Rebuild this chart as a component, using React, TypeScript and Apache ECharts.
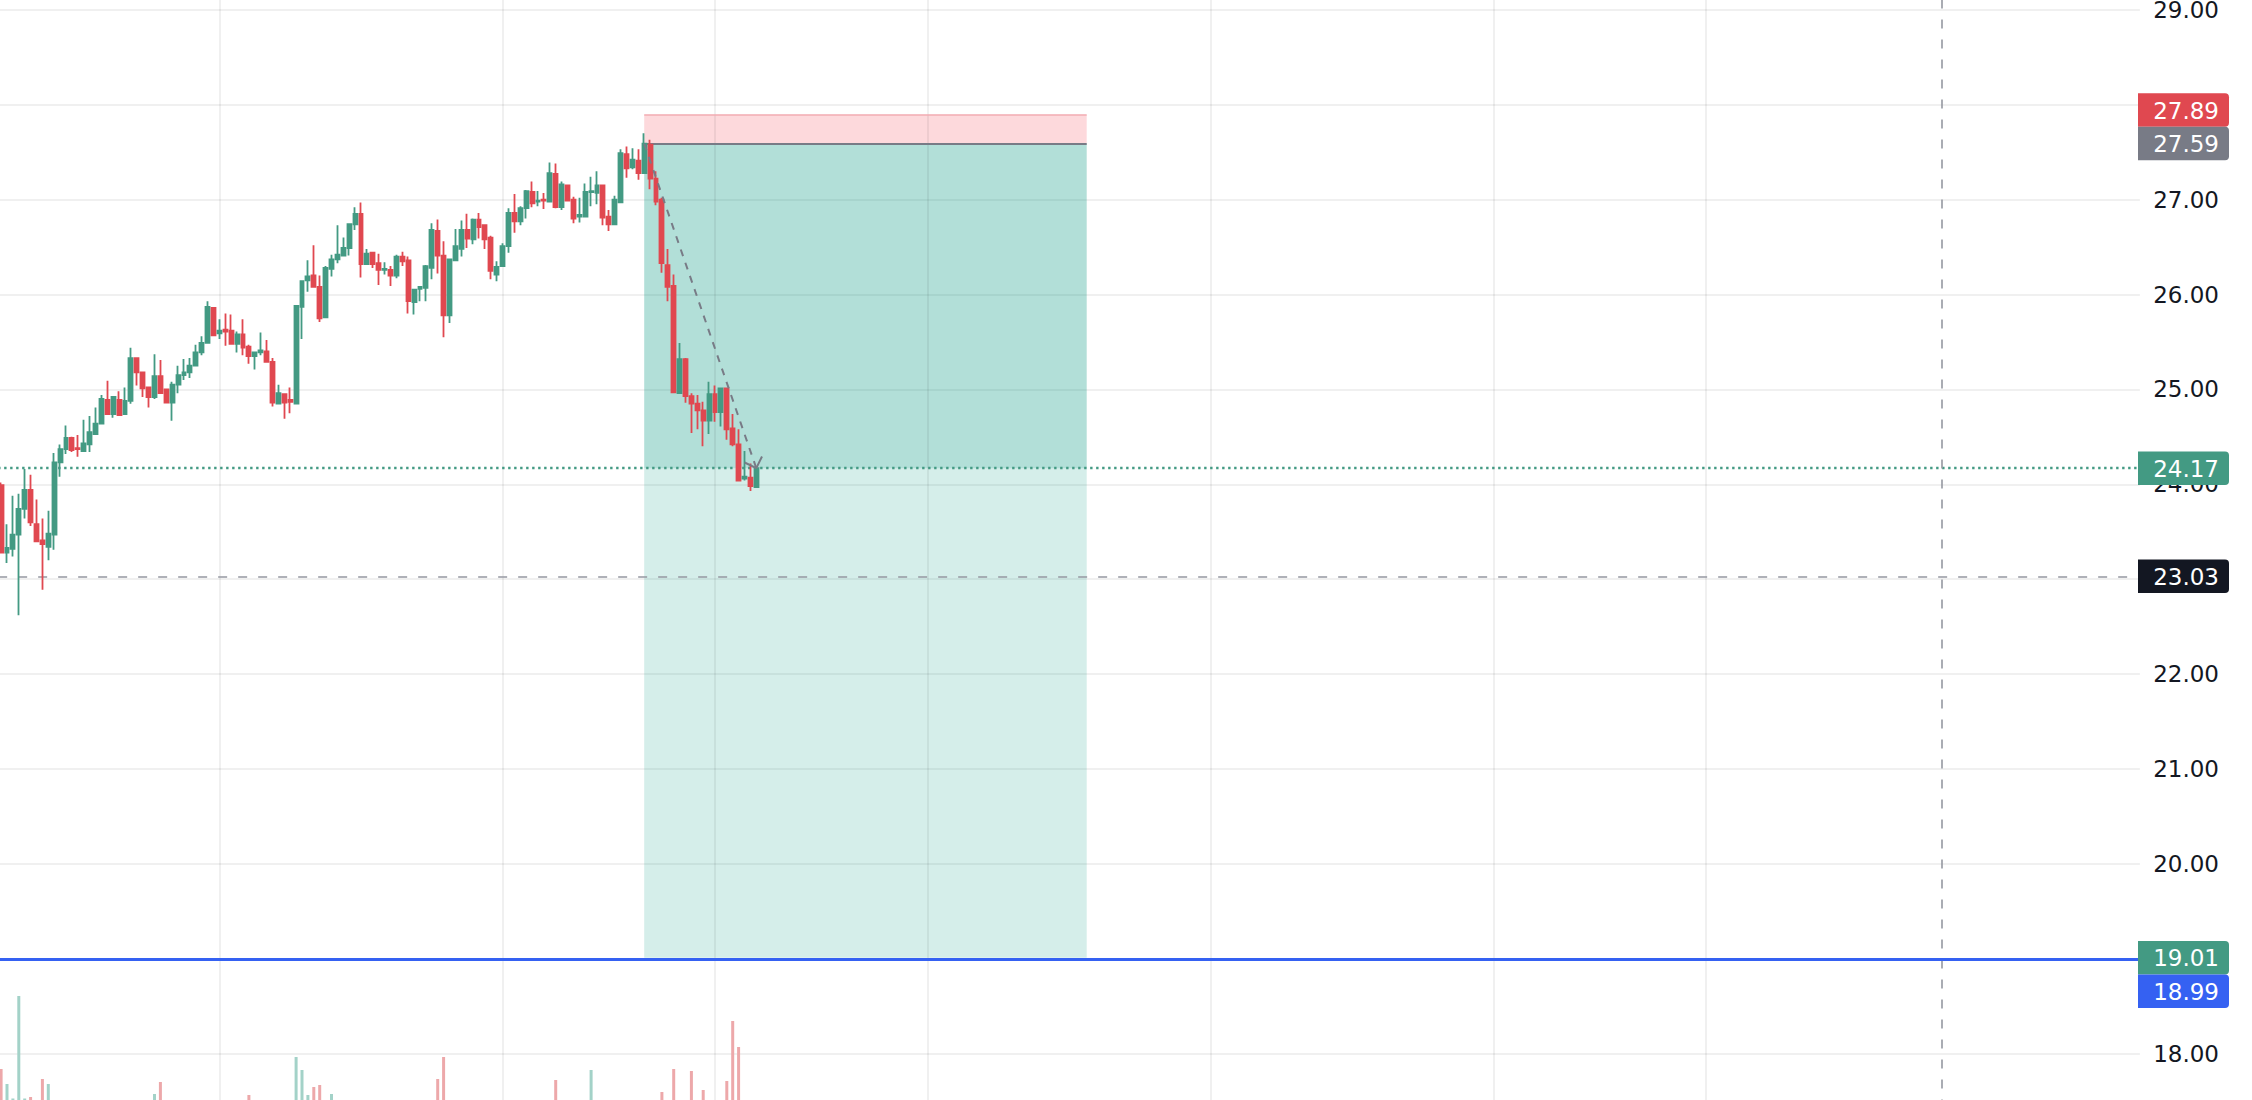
import React, { useEffect, useRef } from "react";
import * as echarts from "echarts";

// ---------- data ----------
const opens = [
  23.99, 23.28, 23.32, 23.47, 23.74, 23.94, 23.58, 23.41, 23.34, 23.47,
  24.23, 24.37, 24.49, 24.38, 24.35, 24.42, 24.53, 24.64, 24.89, 24.74,
  24.89, 24.74, 24.88, 25.33, 25.18, 25.02, 24.92, 25.14, 25.0, 24.86,
  25.05, 25.15, 25.18, 25.25, 25.39, 25.49, 25.86, 25.59, 25.63, 25.62,
  25.48, 25.58, 25.45, 25.35, 25.39, 25.4, 25.29, 24.85, 24.95, 24.89,
  24.85, 25.87, 26.15, 26.2, 26.08, 25.76, 26.27, 26.37, 26.41, 26.49,
  26.74, 26.85, 26.32, 26.44, 26.33, 26.26, 26.26, 26.2, 26.4, 26.36,
  25.92, 26.06, 26.07, 26.28, 26.67, 26.41, 25.78, 26.36, 26.48, 26.68,
  26.58, 26.79, 26.73, 26.6, 26.21, 26.3, 26.51, 26.86, 26.77, 26.91,
  27.08, 26.98, 27.0, 26.98, 27.27, 26.92, 27.15, 27.0, 26.82, 26.82,
  27.08, 27.07, 27.15, 26.82, 26.74, 26.97, 27.48, 27.34, 27.41, 27.28,
  27.58, 27.22, 27.0, 26.31, 26.09, 24.96, 25.32, 24.93, 24.85, 24.78,
  24.67, 24.95, 24.76, 25.01, 24.59, 24.42, 24.06, 24.07, 23.97,
];
const highs = [
  24.02, 23.58, 23.88, 23.9, 24.16, 24.1, 23.84, 23.64, 23.72, 24.33,
  24.42, 24.62, 24.5, 24.52, 24.68, 24.72, 24.81, 24.94, 25.09, 24.92,
  24.98, 25.02, 25.44, 25.33, 25.18, 25.02, 25.37, 25.31, 25.0, 25.08,
  25.25, 25.32, 25.33, 25.47, 25.56, 25.93, 25.86, 25.74, 25.8, 25.79,
  25.61, 25.74, 25.47, 25.39, 25.6, 25.52, 25.33, 25.05, 24.95, 25.02,
  25.88, 26.15, 26.36, 26.52, 26.2, 26.3, 26.42, 26.73, 26.6, 26.74,
  26.92, 26.97, 26.48, 26.44, 26.43, 26.34, 26.3, 26.42, 26.45, 26.4,
  26.06, 26.09, 26.31, 26.75, 26.79, 26.56, 26.37, 26.69, 26.78, 26.85,
  26.8, 26.86, 26.73, 26.62, 26.35, 26.54, 26.91, 27.06, 26.93, 27.1,
  27.19, 27.09, 27.07, 27.39, 27.38, 27.19, 27.15, 27.03, 27.02, 27.17,
  27.24, 27.3, 27.15, 26.89, 27.04, 27.53, 27.56, 27.54, 27.53, 27.7,
  27.63, 27.3, 27.02, 26.48, 26.21, 25.49, 25.33, 24.96, 24.94, 24.87,
  25.08, 25.04, 25.01, 25.02, 24.74, 24.58, 24.35, 24.22, 24.17,
];
const lows = [
  23.27, 23.17, 23.24, 22.62, 23.64, 23.56, 23.39, 22.89, 23.2, 23.31,
  24.08, 24.32, 24.34, 24.29, 24.34, 24.34, 24.53, 24.64, 24.74, 24.7,
  24.73, 24.74, 24.85, 25.04, 24.92, 24.81, 24.9, 24.96, 24.86, 24.67,
  24.96, 25.1, 25.12, 25.25, 25.36, 25.49, 25.57, 25.53, 25.46, 25.47,
  25.39, 25.36, 25.27, 25.21, 25.36, 25.28, 24.82, 24.85, 24.69, 24.75,
  24.85, 25.53, 26.03, 26.08, 25.71, 25.76, 26.19, 26.33, 26.41, 26.41,
  26.68, 26.18, 26.32, 26.28, 26.1, 26.21, 26.09, 26.17, 26.3, 25.8,
  25.79, 25.93, 25.93, 26.16, 26.22, 25.55, 25.7, 26.36, 26.4, 26.49,
  26.53, 26.59, 26.48, 26.16, 26.14, 26.3, 26.44, 26.65, 26.73, 26.8,
  26.92, 26.93, 26.9, 26.98, 26.91, 26.89, 26.99, 26.75, 26.76, 26.82,
  26.93, 26.95, 26.73, 26.67, 26.74, 26.97, 27.23, 27.32, 27.21, 27.27,
  27.11, 26.94, 26.23, 25.93, 24.96, 24.96, 24.86, 24.54, 24.58, 24.4,
  24.53, 24.66, 24.61, 24.47, 24.4, 24.04, 24.04, 23.93, 23.97,
];
const closes = [
  23.28, 23.33, 23.47, 23.74, 23.94, 23.6, 23.4, 23.37, 23.48, 24.23,
  24.37, 24.49, 24.36, 24.37, 24.43, 24.55, 24.64, 24.9, 24.74, 24.92,
  24.73, 24.88, 25.33, 25.18, 25.01, 24.92, 25.14, 24.96, 24.86, 25.05,
  25.15, 25.18, 25.25, 25.39, 25.49, 25.87, 25.57, 25.62, 25.61, 25.48,
  25.58, 25.44, 25.35, 25.39, 25.41, 25.29, 24.86, 24.96, 24.86, 24.87,
  25.88, 26.14, 26.19, 26.08, 25.75, 26.28, 26.37, 26.42, 26.49, 26.74,
  26.85, 26.32, 26.43, 26.32, 26.26, 26.27, 26.2, 26.4, 26.35, 25.93,
  26.05, 26.08, 26.3, 26.68, 26.41, 25.78, 26.37, 26.51, 26.68, 26.59,
  26.79, 26.71, 26.58, 26.25, 26.29, 26.51, 26.86, 26.77, 26.91, 27.09,
  26.96, 26.99, 26.99, 27.28, 26.92, 27.16, 26.99, 26.8, 26.84, 27.08,
  27.09, 27.15, 26.81, 26.74, 27.0, 27.49, 27.33, 27.42, 27.28, 27.59,
  27.22, 26.98, 26.33, 26.08, 24.97, 25.32, 24.93, 24.85, 24.78, 24.67,
  24.95, 24.76, 25.01, 24.58, 24.42, 24.04, 24.08, 23.98, 24.17,
];
// [bar index, visible volume height] – only the bars that rise into view
const volumeBars = [
  [0, 31], [1, 16], [2, 1.5], [3, 104], [4, 1.5], [5, 3], [7, 21], [8, 16],
  [26, 6], [27, 18], [42, 5], [50, 43], [51, 30], [52, 5], [53, 13], [54, 15],
  [56, 6], [74, 21], [75, 43], [94, 20], [100, 30], [112, 8], [114, 31],
  [117, 29], [119, 10], [123, 19], [124, 79], [125, 53],
];
// tick labels shown on the price scale (19.00 and 28.00 are hidden behind the tags)
const priceTickLabels = [18, 20, 21, 22, 23, 24, 25, 26, 27, 29];
const timeGridBars = [37, 85, 121, 157, 205, 253, 289];
// short position tool
const positionStartBar = 109;
const positionEndBar = 184;
const entryPrice = 27.59;
const stopPrice = 27.89;
const targetPrice = 19.01;
const currentPrice = 24.17;
const lastBar = 128;
// crosshair and horizontal line
const crosshairBar = 329;
const crosshairPrice = 23.03;
const horizontalLinePrice = 18.99;
const priceTags = [
  { value: 27.89, kind: "stop" },
  { value: 27.59, kind: "entry" },
  { value: 24.17, kind: "last" },
  { value: 23.03, kind: "cross" },
  { value: 19.01, kind: "target" },
  { value: 18.99, kind: "hline" },
];

// ---------- layout / style ----------
const W = 2252;
const H = 1100;
// the chart canvas is larger than the page so that the price scale can run past its edges
const OFF_X = 20;
const OFF_Y = 200;
const CW = W + OFF_X + 20;
const CH = H + OFF_Y + 200;

const BAR_STEP = 5.9;
const FIRST_BAR_X = 1.1;
const SLOTS = 363;
const GRID_LEFT = OFF_X + FIRST_BAR_X - BAR_STEP / 2;
const GRID_WIDTH = SLOTS * BAR_STEP;
const PX_PER_UNIT = 94.9;
const Y_OF_28 = 104.7;
const Y_MIN = 17;
const Y_MAX = 30;
const GRID_TOP = OFF_Y + Y_OF_28 - (Y_MAX - 28) * PX_PER_UNIT;
const GRID_HEIGHT = (Y_MAX - Y_MIN) * PX_PER_UNIT;
const VOL_HEIGHT = 220;

const UP = "#439a83";
const DOWN = "#e04850";
const GRID_COLOR = "#f0f0f0";
const GRID_OVER = "rgba(0,0,0,0.06)";
const GRAY = "#787b86";
const CROSS = "#9598a1";
const BLUE = "#3561f2";
const TEXT = "#131722";
const FONT = "'DejaVu Sans', Inter, sans-serif";
const FONT_SIZE = 23;

const TAG_COLORS: Record<string, string> = {
  stop: DOWN,
  entry: GRAY,
  last: UP,
  cross: TEXT,
  target: UP,
  hline: BLUE,
};

const TAG_X = OFF_X + 2138;
const TAG_W = 91;
const TAG_H = 33.5;
const TAG_TEXT_RIGHT = OFF_X + 2219;

export default function App() {
  const ref = useRef<HTMLDivElement>(null);

  useEffect(() => {
    if (!ref.current) return;
    const chart = echarts.init(ref.current, undefined, { renderer: "svg", width: CW, height: CH });

    const categories = Array.from({ length: SLOTS }, (_, i) => String(i));
    const candleData = opens.map((o, i) => [o, closes[i], lows[i], highs[i]]);
    const volumeData: any[] = Array.from({ length: opens.length }, () => "-");
    volumeBars.forEach(([i, v]) => {
      volumeData[i] = {
        value: v,
        itemStyle: { color: closes[i] >= opens[i] ? "#a3d2c8" : "#eda8aa" },
      };
    });

    // arrow head at the end of the dashed connector
    const dxPx = (lastBar - positionStartBar) * BAR_STEP;
    const dyPx = (entryPrice - currentPrice) * PX_PER_UNIT;
    const len = Math.hypot(dxPx, dyPx);
    const ux = -dxPx / len;
    const uy = -dyPx / len;
    const armLen = 13;
    const arm = (a: number) => {
      const c = Math.cos(a);
      const s = Math.sin(a);
      const vx = (ux * c - uy * s) * armLen;
      const vy = (ux * s + uy * c) * armLen;
      return [lastBar + vx / BAR_STEP, currentPrice - vy / PX_PER_UNIT];
    };
    const arrowHead = [arm(-Math.PI / 4), [lastBar, currentPrice], arm(Math.PI / 4)];

    const option: any = {
      animation: false,
      backgroundColor: "#ffffff",
      textStyle: { fontFamily: FONT },
      grid: [
        { left: GRID_LEFT, top: GRID_TOP, width: GRID_WIDTH, height: GRID_HEIGHT },
        { left: GRID_LEFT, top: OFF_Y + H - VOL_HEIGHT, width: GRID_WIDTH, height: VOL_HEIGHT },
      ],
      xAxis: [
        { type: "category", gridIndex: 0, data: categories, show: false, boundaryGap: true },
        { type: "value", gridIndex: 0, min: -0.5, max: SLOTS - 0.5, show: false },
        { type: "category", gridIndex: 1, data: categories, show: false, boundaryGap: true },
      ],
      yAxis: [
        {
          type: "value",
          gridIndex: 0,
          position: "right",
          min: Y_MIN,
          max: Y_MAX,
          interval: 1,
          axisLine: { show: false },
          axisTick: { show: false },
          splitLine: { show: true, lineStyle: { color: GRID_COLOR, width: 2 } },
          axisLabel: {
            formatter: (v: number) => (priceTickLabels.includes(v) ? v.toFixed(2) : ""),
            align: "right",
            margin: TAG_TEXT_RIGHT - (GRID_LEFT + GRID_WIDTH),
            fontSize: FONT_SIZE,
            fontFamily: FONT,
            color: TEXT,
          },
        },
        { type: "value", gridIndex: 1, min: 0, max: VOL_HEIGHT, show: false },
      ],
      series: [
        {
          name: "position",
          type: "line",
          xAxisIndex: 1,
          yAxisIndex: 0,
          data: [],
          z: 2,
          silent: true,
          markArea: {
            silent: true,
            data: [
              [
                { xAxis: positionStartBar, yAxis: stopPrice, itemStyle: { color: "rgba(242,54,69,0.19)" } },
                { xAxis: positionEndBar, yAxis: entryPrice },
              ],
              [
                { xAxis: positionStartBar, yAxis: entryPrice, itemStyle: { color: "rgba(8,153,129,0.31)" } },
                { xAxis: positionEndBar, yAxis: currentPrice },
              ],
              [
                { xAxis: positionStartBar, yAxis: currentPrice, itemStyle: { color: "rgba(8,153,129,0.17)" } },
                { xAxis: positionEndBar, yAxis: targetPrice },
              ],
            ],
          },
        },
        {
          name: "time-grid",
          type: "line",
          xAxisIndex: 1,
          yAxisIndex: 0,
          data: [],
          z: 3,
          silent: true,
          markLine: {
            silent: true,
            symbol: ["none", "none"],
            label: { show: false },
            lineStyle: { color: GRID_OVER, width: 2, type: "solid" },
            data: timeGridBars.map((b) => ({ xAxis: b })),
          },
        },
        {
          name: "volume",
          type: "bar",
          xAxisIndex: 2,
          yAxisIndex: 1,
          data: volumeData,
          barWidth: 3,
          z: 4,
        },
        {
          name: "price",
          type: "candlestick",
          xAxisIndex: 0,
          yAxisIndex: 0,
          data: candleData,
          barWidth: 4.4,
          barMaxWidth: 10,
          z: 5,
          itemStyle: {
            color: UP,
            color0: DOWN,
            borderColor: UP,
            borderColor0: DOWN,
            borderWidth: 1.8,
          },
        },
        {
          name: "lines",
          type: "line",
          xAxisIndex: 1,
          yAxisIndex: 0,
          data: [],
          z: 6,
          silent: true,
          markLine: {
            silent: true,
            symbol: ["none", "none"],
            label: { show: false },
            data: [
              { yAxis: currentPrice, lineStyle: { color: UP, width: 2.4, type: [2.4, 3.6] } },
              { yAxis: crosshairPrice, lineStyle: { color: CROSS, width: 1.6, type: [9, 11] } },
              { xAxis: crosshairBar, lineStyle: { color: CROSS, width: 1.6, type: [9, 11] } },
              { yAxis: horizontalLinePrice, lineStyle: { color: BLUE, width: 3, type: "solid" } },
              [
                { coord: [positionStartBar, entryPrice], lineStyle: { color: GRAY, width: 2, type: "solid" } },
                { coord: [positionEndBar, entryPrice] },
              ],
              [
                { coord: [positionStartBar, stopPrice], lineStyle: { color: "#f2aab0", width: 1.5, type: "solid" } },
                { coord: [positionEndBar, stopPrice] },
              ],
            ],
          },
        },
        {
          name: "connector",
          type: "line",
          xAxisIndex: 1,
          yAxisIndex: 0,
          data: [
            [positionStartBar, entryPrice],
            [lastBar, currentPrice],
          ],
          symbol: "none",
          silent: true,
          z: 7,
          lineStyle: { color: GRAY, width: 2, type: [7, 7] },
        },
        {
          name: "arrow",
          type: "line",
          xAxisIndex: 1,
          yAxisIndex: 0,
          data: arrowHead,
          symbol: "none",
          silent: true,
          z: 7,
          lineStyle: { color: GRAY, width: 2, type: "solid" },
        },
      ],
    };

    chart.setOption(option);

    // price tags on the right scale
    const y = (v: number) => chart.convertToPixel({ yAxisIndex: 0 }, v) as number;
    const pos: Record<number, number> = {};
    priceTags.forEach((t) => (pos[t.value] = y(t.value)));
    // resolve overlaps: stop tag above entry tag, line tag below target tag
    pos[stopPrice] = Math.min(pos[stopPrice], pos[entryPrice] - TAG_H);
    pos[horizontalLinePrice] = Math.max(pos[horizontalLinePrice], pos[targetPrice] + TAG_H);

    const graphic = priceTags.map((t) => {
      const yc = pos[t.value];
      return {
        type: "group",
        z: 100,
        children: [
          {
            type: "rect",
            z: 100,
            shape: { x: TAG_X, y: yc - TAG_H / 2, width: TAG_W, height: TAG_H, r: [0, 4, 4, 0] },
            style: { fill: TAG_COLORS[t.kind] },
          },
          {
            type: "text",
            z: 101,
            x: TAG_TEXT_RIGHT,
            y: yc + 0.5,
            style: {
              text: t.value.toFixed(2),
              fill: "#ffffff",
              fontSize: FONT_SIZE,
              fontFamily: FONT,
              align: "right",
              verticalAlign: "middle",
            },
          },
        ],
      };
    });
    chart.setOption({ graphic });

    return () => chart.dispose();
  }, []);

  return (
    <div
      ref={ref}
      style={{
        position: "fixed",
        left: -OFF_X,
        top: -OFF_Y,
        width: CW,
        height: CH,
        background: "#fff",
      }}
    />
  );
}
